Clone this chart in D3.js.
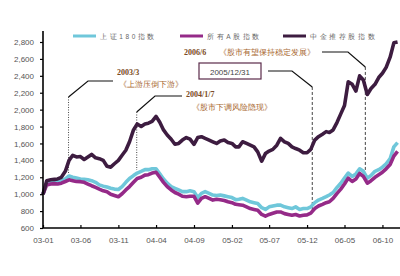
<!doctype html>
<html>
<head>
<meta charset="utf-8">
<style>
  body { margin: 0; background: #fff; }
  svg { display: block; }
</style>
</head>
<body>
<svg width="400" height="276" font-family="Liberation Sans, Arial, sans-serif"></svg>
<script src="https://d3js.org/d3.v7.min.js"></script>
<script>
  // semi-monthly samples, 2003-01-01 .. 2006-12-01
  let dates = [];
  for (let y = 2003; y <= 2006; y++) {
    for (let m = 1; m <= 12; m++) {
      dates.push(y + "-" + String(m).padStart(2, "0") + "-01");
      dates.push(y + "-" + String(m).padStart(2, "0") + "-16");
    }
  }
  dates = dates.slice(0, 95);

  // 上证180指数
  let sse180 = [1000,1130,1150,1150,1150,1160,1180,1215,1200,1190,1180,1175,1170,1160,1140,1110,
    1095,1085,1070,1060,1055,1090,1140,1185,1220,1250,1270,1290,1290,1300,1300,1240,
    1180,1130,1090,1070,1050,1030,1030,1040,1030,960,1010,1030,1010,990,985,990,
    980,970,960,935,940,950,930,910,900,890,840,820,850,860,870,870,
    850,840,830,850,820,830,830,850,900,930,950,970,990,1020,1080,1130,
    1190,1250,1210,1240,1300,1270,1190,1220,1270,1290,1320,1360,1420,1560,1610];
  // 所有A股指数
  let allA = [1000,1110,1120,1125,1120,1130,1150,1170,1160,1150,1148,1140,1120,1100,1080,1060,
    1040,1030,1000,985,970,1005,1050,1090,1140,1185,1200,1225,1230,1250,1260,1200,
    1140,1090,1050,1020,1000,975,970,975,975,895,950,970,950,930,940,935,
    925,910,900,880,875,870,850,830,820,810,760,740,760,775,790,790,
    770,760,750,760,742,750,755,775,830,860,880,900,910,950,1010,1060,
    1120,1190,1150,1180,1245,1210,1130,1160,1200,1230,1260,1300,1350,1450,1505];
  // 中金推荐股指数
  let cicc = [1000,1160,1170,1175,1180,1200,1270,1400,1460,1440,1445,1410,1440,1470,1430,1420,
    1400,1330,1320,1360,1400,1460,1520,1620,1760,1830,1800,1830,1840,1860,1920,1850,
    1760,1700,1650,1590,1600,1640,1670,1650,1590,1670,1680,1660,1640,1620,1600,1630,
    1640,1610,1600,1560,1560,1620,1600,1580,1560,1500,1390,1480,1510,1530,1580,1660,
    1620,1600,1560,1540,1520,1490,1490,1530,1640,1680,1710,1740,1730,1760,1850,1950,
    2050,2330,2300,2220,2400,2350,2180,2250,2300,2380,2430,2500,2620,2790,2800];

  let seriesNames = ["上证180指数", "所有A股指数", "中金推荐股指数"];
  let seriesColors = ["#6fc7da", "#952a88", "#3d1c40"];

  let yTicks = [600,800,1000,1200,1400,1600,1800,2000,2200,2400,2600,2800];
  let xTickLabels = ["03-01","03-06","03-11","04-04","04-09","05-02","05-07","05-12","06-05","06-10"];

  // event markers: date, top value, bottom value
  let events = [
    {date: "2003-04-14", top: 2150, bottom: 1250, title: "2003/3", note: "《上游压倒下游》", dash: "1,1.5"},
    {date: "2004-01-14", top: 1972, bottom: 1286, title: "2004/1/7", note: "《股市下调风险隐现》", dash: "1,1.5"},
    {date: "2005-12-22", top: 2268, bottom: 777, title: "2005/12/31", note: null, dash: "3,2"},
    {date: "2006-07-24", top: 2505, bottom: 1262, title: "2006/6", note: "《股市有望保持稳定发展》", dash: "3,2"}
  ];

  let svg = d3.select("svg");
  let parse = d3.timeParse("%Y-%m-%d");

  let x = d3.scaleTime()
    .domain([parse("2003-01-01"), parse("2006-12-31")])
    .range([43, 405]);
  let y = d3.scaleLinear()
    .domain([600, 2800])
    .range([228, 42]);

  let line = d3.line()
    .x(d => x(d.date))
    .y(d => y(d.value));

  let allSeries = [sse180, allA, cicc].map((vals, i) => ({
    name: seriesNames[i],
    color: seriesColors[i],
    values: vals.map((v, j) => ({date: parse(dates[j]), value: v}))
  }));

  // event leader lines (behind data)
  let ev = svg.append("g");
  events.forEach((e, i) => {
    let ex = x(parse(e.date));
    ev.append("line")
      .attr("x1", ex).attr("x2", ex)
      .attr("y1", y(e.top)).attr("y2", y(e.bottom))
      .attr("stroke", "#444").attr("stroke-width", 1)
      .attr("stroke-dasharray", e.dash);
  });

  let lines = svg.append("g");
  allSeries.forEach(s => {
    lines.append("path")
      .datum(s.values)
      .attr("d", line)
      .attr("fill", "none")
      .attr("stroke", s.color)
      .attr("stroke-width", 3.6)
      .attr("stroke-linejoin", "round");
  });

  // axes
  let yAxis = svg.append("g")
    .attr("transform", "translate(43,0)")
    .call(d3.axisLeft(y).tickValues(yTicks).tickSize(3).tickFormat(d3.format(",")));
  yAxis.select(".domain").attr("d", "M0," + y(2930) + "V" + y(600)).attr("stroke-width", 1.6);
  yAxis.selectAll(".tick line").attr("stroke-width", 1.2);
  yAxis.selectAll(".tick text")
    .attr("x", -9).attr("fill", "#555").attr("font-size", 8);

  let xTickDates = xTickLabels.map(l => parse("20" + l + "-01"));
  let xAxis = svg.append("g")
    .attr("transform", "translate(0,228)")
    .call(d3.axisBottom(x).tickValues(xTickDates).tickSize(-3).tickSizeOuter(0)
      .tickFormat((d, i) => xTickLabels[i]));
  xAxis.select(".domain").attr("d", "M43,0H400").attr("stroke-width", 1.6);
  xAxis.selectAll(".tick line").attr("stroke-width", 1.2);
  xAxis.selectAll(".tick text")
    .attr("y", 9).attr("fill", "#555").attr("font-size", 8);

  // legend
  let legendX = [73, 180, 283];
  let legend = svg.append("g");
  allSeries.forEach((s, i) => {
    legend.append("line")
      .attr("x1", legendX[i]).attr("x2", legendX[i] + 23)
      .attr("y1", 36).attr("y2", 36)
      .attr("stroke", s.color).attr("stroke-width", 3);
    legend.append("text")
      .attr("x", legendX[i] + 27).attr("y", 39)
      .attr("font-size", 6.5).attr("letter-spacing", 2.6)
      .attr("fill", "#666")
      .text(s.name);
  });

  // annotation leaders and texts
  let ann = svg.append("g").attr("font-family", "Liberation Serif, DejaVu Serif, serif");
  function leader(e, pts) {
    let ex = x(parse(e.date)), ey = y(e.top);
    ann.append("path")
      .attr("d", d3.line()([[ex, ey]].concat(pts)))
      .attr("fill", "none").attr("stroke", "#111").attr("stroke-width", 1.2);
  }
  function title(tx, ty, t) {
    ann.append("text").attr("x", tx).attr("y", ty)
      .attr("font-size", 8).attr("font-weight", "bold").attr("fill", "#7a4a22").text(t);
  }
  function note(tx, ty, t) {
    ann.append("text").attr("x", tx).attr("y", ty)
      .attr("font-size", 7.5).attr("fill", "#a8672f").text(t);
  }

  leader(events[0], [[88, 81], [113, 81]]);
  title(117, 75, events[0].title);
  note(119, 87, events[0].note);

  leader(events[1], [[155, 96], [182, 96]]);
  title(186, 97, events[1].title);
  note(192, 110, events[1].note);

  leader(events[2], [[292, 71], [268, 71]]);
  ann.append("rect")
    .attr("x", 199).attr("y", 63).attr("width", 62).attr("height", 16)
    .attr("fill", "#fff").attr("stroke", "#5a2a4a").attr("stroke-width", 1.2);
  ann.append("text").attr("x", 230).attr("y", 74.5)
    .attr("text-anchor", "middle").attr("font-family", "Liberation Sans, Arial, sans-serif")
    .attr("font-size", 8).attr("fill", "#444").text(events[2].title);

  leader(events[3], [[348, 52], [322, 52]]);
  title(184, 55, events[3].title);
  note(219, 55, events[3].note);
</script>
</body>
</html>
